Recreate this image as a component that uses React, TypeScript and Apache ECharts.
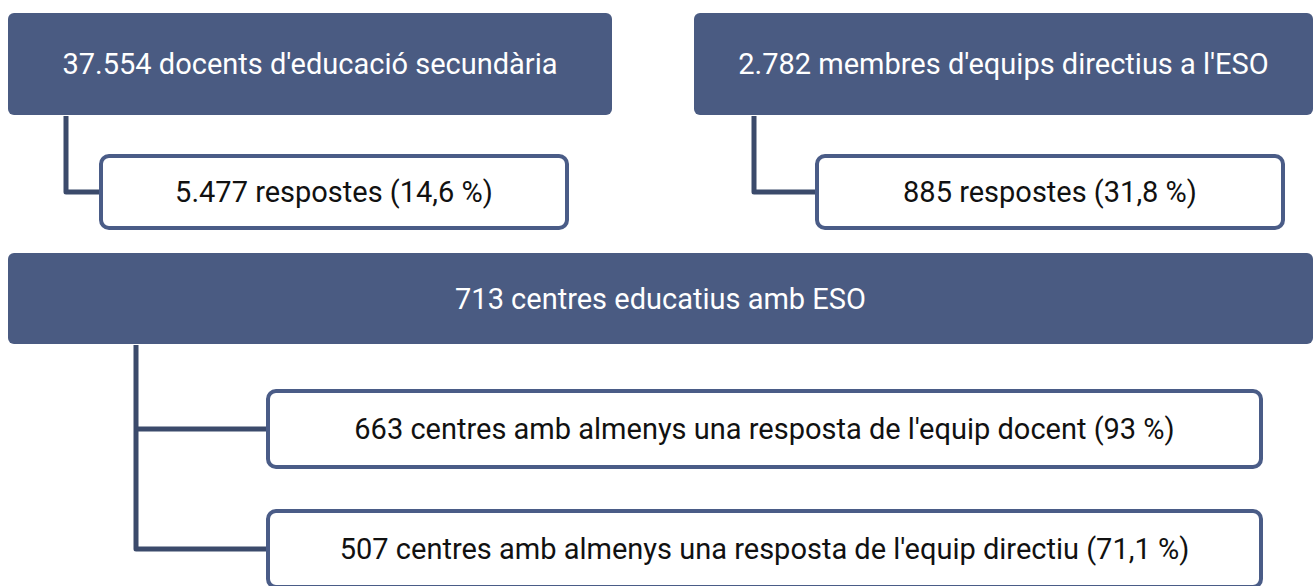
import React, { useEffect, useRef } from "react";
import * as echarts from "echarts";

// Labels (text content)
const topLabels = [
  "37.554 docents d'educació secundària",
  "2.782 membres d'equips directius a l'ESO",
];
const responseLabels = ["5.477 respostes (14,6 %)", "885 respostes (31,8 %)"];
const centreLabel = "713 centres educatius amb ESO";
const centreChildLabels = [
  "663 centres amb almenys una resposta de l'equip docent (93 %)",
  "507 centres amb almenys una resposta de l'equip directiu (71,1 %)",
];

const DARK = "#4a5b82";
const BORDER = "#4a5c87";
const LINE = "#3b4a6b";
const FONT = "Roboto";
const FS = 29;

type Box = { x: number; y: number; w: number; h: number };

const darkTop: Box[] = [
  { x: 8, y: 13, w: 604, h: 102 },
  { x: 694, y: 13, w: 619, h: 102 },
];
const whiteTop: Box[] = [
  { x: 99, y: 154, w: 470, h: 76 },
  { x: 815, y: 154, w: 470, h: 76 },
];
const darkBottom: Box = { x: 8, y: 253, w: 1305, h: 91 };
const whiteBottom: Box[] = [
  { x: 266, y: 389, w: 997, h: 80 },
  { x: 266, y: 509, w: 997, h: 80 },
];

function darkBox(b: Box, text: string): any[] {
  return [
    {
      type: "rect",
      shape: { x: b.x, y: b.y, width: b.w, height: b.h, r: 6 },
      style: { fill: DARK },
    },
    {
      type: "text",
      x: b.x + b.w / 2,
      y: b.y + b.h / 2,
      style: {
        text,
        fill: "#ffffff",
        font: `${FS}px ${FONT}`,
        align: "center",
        verticalAlign: "middle",
      },
    },
  ];
}

function whiteBox(b: Box, text: string): any[] {
  const lw = 4;
  return [
    {
      type: "rect",
      shape: {
        x: b.x + lw / 2,
        y: b.y + lw / 2,
        width: b.w - lw,
        height: b.h - lw,
        r: 8,
      },
      style: { fill: "#ffffff", stroke: BORDER, lineWidth: lw },
    },
    {
      type: "text",
      x: b.x + b.w / 2,
      y: b.y + b.h / 2,
      style: {
        text,
        fill: "#111111",
        font: `${FS}px ${FONT}`,
        align: "center",
        verticalAlign: "middle",
      },
    },
  ];
}

function connector(points: number[][]): any {
  return {
    type: "polyline",
    shape: { points },
    style: { stroke: LINE, lineWidth: 5, fill: null, lineJoin: "round" },
  };
}

export default function App() {
  const ref = useRef<HTMLDivElement>(null);
  useEffect(() => {
    if (!ref.current) return;
    const chart = echarts.init(ref.current, undefined, { renderer: "svg" });
    const elements: any[] = [];
    // connectors first (behind boxes)
    elements.push(connector([[66, 116], [66, 192], [100, 192]]));
    elements.push(connector([[754, 116], [754, 192], [816, 192]]));
    elements.push(connector([[136, 345], [136, 549], [267, 549]]));
    elements.push(connector([[136, 429], [267, 429]]));
    darkTop.forEach((b, i) => elements.push(...darkBox(b, topLabels[i])));
    whiteTop.forEach((b, i) => elements.push(...whiteBox(b, responseLabels[i])));
    elements.push(...darkBox(darkBottom, centreLabel));
    whiteBottom.forEach((b, i) =>
      elements.push(...whiteBox(b, centreChildLabels[i]))
    );
    chart.setOption({
      animation: false,
      backgroundColor: "#ffffff",
      graphic: { elements },
    });
    return () => chart.dispose();
  }, []);
  return (
    <div
      ref={ref}
      style={{ position: "fixed", left: 0, top: 0, width: 1314, height: 586 }}
    />
  );
}
